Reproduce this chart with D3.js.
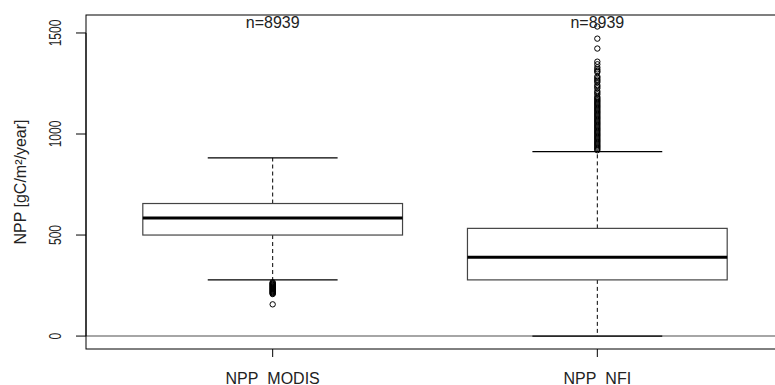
<!DOCTYPE html>
<html><head><meta charset="utf-8">
<script src="https://cdn.jsdelivr.net/npm/d3@7"></script>
<style>
html,body{margin:0;padding:0;background:#fff;}
svg{display:block;}
text{font-family:"Liberation Sans",Arial,sans-serif;fill:#222;}
</style></head>
<body>
<svg id="chart" width="775" height="385"></svg>
<script>
const categories = ["NPP_MODIS", "NPP_NFI"];
const counts = [8939, 8939];
const whiskerLow = [278, 0];
const q1 = [500, 278];
const median = [584, 390];
const q3 = [656, 533];
const whiskerHigh = [882, 913];
const outliersMODIS = [266, 262, 259, 256, 253, 250, 247, 244, 241, 238, 235, 232, 229, 226, 223, 220, 217, 214, 211, 208, 157];
const outliersNFI = [920, 926, 932, 938, 944, 950, 956, 962, 968, 974, 980, 986, 992, 998, 1004, 1010, 1016, 1022, 1028, 1034, 1040, 1046, 1052, 1058, 1064, 1070, 1076, 1082, 1088, 1094, 1100, 1106, 1112, 1118, 1124, 1130, 1136, 1142, 1148, 1154, 1160, 1166, 1172, 1178, 1184, 1196, 1204, 1212, 1226, 1234, 1242, 1256, 1263, 1270, 1278, 1285, 1306, 1312, 1320, 1330, 1345, 1358, 1423, 1472, 1532];
const outliers = [outliersMODIS, outliersNFI];
const yTicks = [0, 500, 1000, 1500];
const yLabel = "NPP [gC/m\u00B2/year]";

const svg = d3.select("#chart");
const mLeft = 86, mTop = 15, mBottom = 349, mRight = 784;
const x = d3.scaleLinear().domain([0.425, 2.575]).range([mLeft, mRight]);
const y = d3.scaleLinear().domain([-64, 1589]).range([mBottom, mTop]);
const halfW = x(1.4) - x(1);
const capW = halfW / 2;

// zero reference line
svg.append("line").attr("x1", mLeft).attr("x2", 775).attr("y1", y(0)).attr("y2", y(0))
  .attr("stroke", "#888").attr("stroke-width", 1.5);

const g = svg.append("g");
categories.forEach((c, i) => {
  const cx = x(i + 1);
  g.append("line").attr("x1", cx).attr("x2", cx).attr("y1", y(q3[i])).attr("y2", y(whiskerHigh[i]))
    .attr("stroke", "#000").attr("stroke-dasharray", "4,3");
  g.append("line").attr("x1", cx).attr("x2", cx).attr("y1", y(q1[i])).attr("y2", y(whiskerLow[i]))
    .attr("stroke", "#000").attr("stroke-dasharray", "4,3");
  [whiskerHigh[i], whiskerLow[i]].forEach(v => {
    g.append("line").attr("x1", cx - capW).attr("x2", cx + capW).attr("y1", y(v)).attr("y2", y(v))
      .attr("stroke", "#000").attr("stroke-width", 1.2);
  });
  g.append("rect").attr("x", cx - halfW).attr("width", 2 * halfW)
    .attr("y", y(q3[i])).attr("height", y(q1[i]) - y(q3[i]))
    .attr("fill", "#fff").attr("stroke", "#444").attr("stroke-width", 1.2);
  g.append("line").attr("x1", cx - halfW).attr("x2", cx + halfW).attr("y1", y(median[i])).attr("y2", y(median[i]))
    .attr("stroke", "#000").attr("stroke-width", 3);
  g.selectAll(null).data(outliers[i]).enter().append("circle")
    .attr("cx", cx).attr("cy", d => y(d)).attr("r", 2.7)
    .attr("fill", "none").attr("stroke", "#000").attr("stroke-width", 1);
  svg.append("text").attr("x", cx).attr("y", 28).attr("text-anchor", "middle")
    .style("font-size", "16px").text("n=" + counts[i]);
});

svg.append("rect").attr("x", mLeft).attr("y", mTop).attr("width", mRight - mLeft).attr("height", mBottom - mTop)
  .attr("fill", "none").attr("stroke", "#000").attr("stroke-width", 1);

const ya = svg.append("g");
yTicks.forEach(t => {
  ya.append("line").attr("x1", mLeft - 10).attr("x2", mLeft).attr("y1", y(t)).attr("y2", y(t))
    .attr("stroke", "#000");
  ya.append("text").attr("transform", `translate(61,${y(t)}) rotate(-90) scale(0.75,1)`)
    .attr("text-anchor", "middle").style("font-size", "16px").text(t);
});
svg.append("line").attr("x1", mLeft).attr("x2", mLeft).attr("y1", y(0)).attr("y2", y(1500)).attr("stroke", "#000");
svg.append("text").attr("transform", `translate(26,${(mTop + mBottom) / 2}) rotate(-90)`)
  .attr("text-anchor", "middle").style("font-size", "16px").text(yLabel);

categories.forEach((c, i) => {
  const cx = x(i + 1);
  svg.append("line").attr("x1", cx).attr("x2", cx).attr("y1", mBottom).attr("y2", mBottom + 8).attr("stroke", "#000");
  svg.append("text").attr("x", cx).attr("y", 384).attr("text-anchor", "middle")
    .style("font-size", "16px").text(c);
});
</script>
</body></html>
